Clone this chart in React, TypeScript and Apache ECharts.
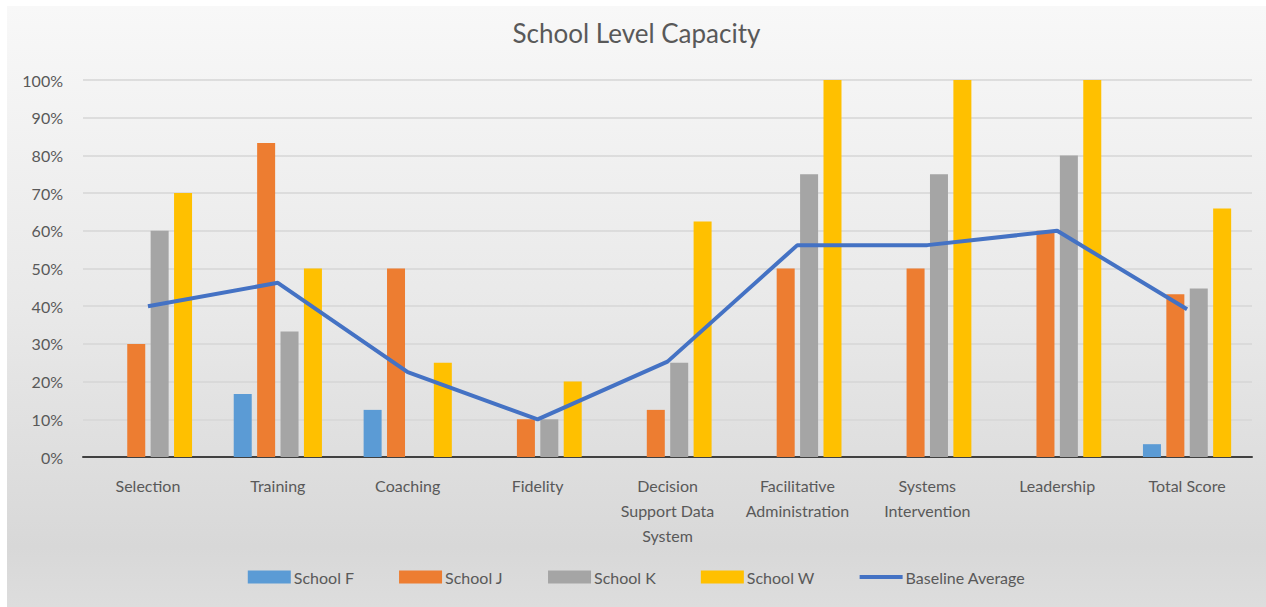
import React, { useEffect, useRef } from "react";
import * as echarts from "echarts";

// Implementation areas scored for each school (share of the maximum score)
const categories = [
  "Selection",
  "Training",
  "Coaching",
  "Fidelity",
  "Decision\nSupport Data\nSystem",
  "Facilitative\nAdministration",
  "Systems\nIntervention",
  "Leadership",
  "Total Score",
];

const schoolF = [0, 16.7, 12.5, 0, 0, 0, 0, 0, 3.4];
const schoolJ = [30, 83.3, 50, 10, 12.5, 50, 50, 60, 43.2];
const schoolK = [60, 33.3, 0, 10, 25, 75, 75, 80, 44.7];
const schoolW = [70, 50, 25, 20, 62.5, 100, 100, 100, 65.9];
const baselineAverage = [40, 46.2, 22.5, 10, 25.3, 56.2, 56.2, 60, 39.2];

const yTicks = { min: 0, max: 100, interval: 10 };

const FONT = "Lato, 'Open Sans', sans-serif";
const TEXT = "#595959";

export default function App() {
  const ref = useRef<HTMLDivElement>(null);

  useEffect(() => {
    if (!ref.current) return;
    const chart = echarts.init(ref.current, undefined, { renderer: "svg" });

    const bar = (name: string, data: number[], color: string) => ({
      name,
      type: "bar",
      data,
      barWidth: 18,
      barGap: "30%",
      itemStyle: { color },
    });

    chart.setOption({
      animation: false,
      backgroundColor: {
        type: "linear",
        x: 0,
        y: 0,
        x2: 0,
        y2: 1,
        colorStops: [
          { offset: 0, color: "#f8f8f8" },
          { offset: 0.5, color: "#e9e9e9" },
          { offset: 0.9, color: "#d8d8d8" },
          { offset: 1, color: "#dddddd" },
        ],
      },
      textStyle: { fontFamily: FONT },
      title: {
        text: "School Level Capacity",
        left: "center",
        top: 9,
        textStyle: { fontFamily: FONT, fontSize: 26, fontWeight: "normal", color: TEXT },
      },
      grid: { left: 76, right: 14, top: 74, bottom: 150 },
      xAxis: {
        type: "category",
        data: categories,
        axisLine: { lineStyle: { color: "#404040", width: 2 } },
        axisTick: { show: false },
        axisLabel: {
          color: TEXT,
          fontSize: 16,
          fontFamily: FONT,
          lineHeight: 25,
          margin: 16,
          interval: 0,
          verticalAlign: "top",
        },
      },
      yAxis: {
        type: "value",
        min: yTicks.min,
        max: yTicks.max,
        interval: yTicks.interval,
        axisLine: { show: false },
        axisTick: { show: false },
        splitLine: { lineStyle: { color: "#d6d6d6", width: 1.5 } },
        axisLabel: {
          color: TEXT,
          fontSize: 16,
          fontFamily: FONT,
          margin: 20,
          formatter: "{value}%",
        },
      },
      legend: {
        left: "center",
        bottom: 17,
        itemWidth: 43,
        itemHeight: 13,
        itemGap: 45,
        textStyle: { color: TEXT, fontSize: 16, fontFamily: FONT, padding: [0, 0, 0, -2] },
        data: [
          { name: "School F", icon: "rect" },
          { name: "School J", icon: "rect" },
          { name: "School K", icon: "rect" },
          { name: "School W", icon: "rect" },
          { name: "Baseline Average", icon: "path://M0,0L43,0L43,4L0,4Z" },
        ],
      },
      series: [
        bar("School F", schoolF, "#5b9bd5"),
        bar("School J", schoolJ, "#ed7d31"),
        bar("School K", schoolK, "#a5a5a5"),
        bar("School W", schoolW, "#ffc000"),
        {
          name: "Baseline Average",
          type: "line",
          data: baselineAverage,
          symbol: "none",
          showSymbol: false,
          itemStyle: { color: "#4472c4" },
          lineStyle: { color: "#4472c4", width: 4 },
          z: 5,
        },
      ],
    });

    return () => chart.dispose();
  }, []);

  return (
    <div
      style={{
        position: "fixed",
        left: 0,
        top: 0,
        width: 1266,
        height: 607,
        background: "#ffffff",
      }}
    >
      <div
        ref={ref}
        style={{ position: "absolute", left: 7, top: 6, width: 1259, height: 601 }}
      />
    </div>
  );
}
